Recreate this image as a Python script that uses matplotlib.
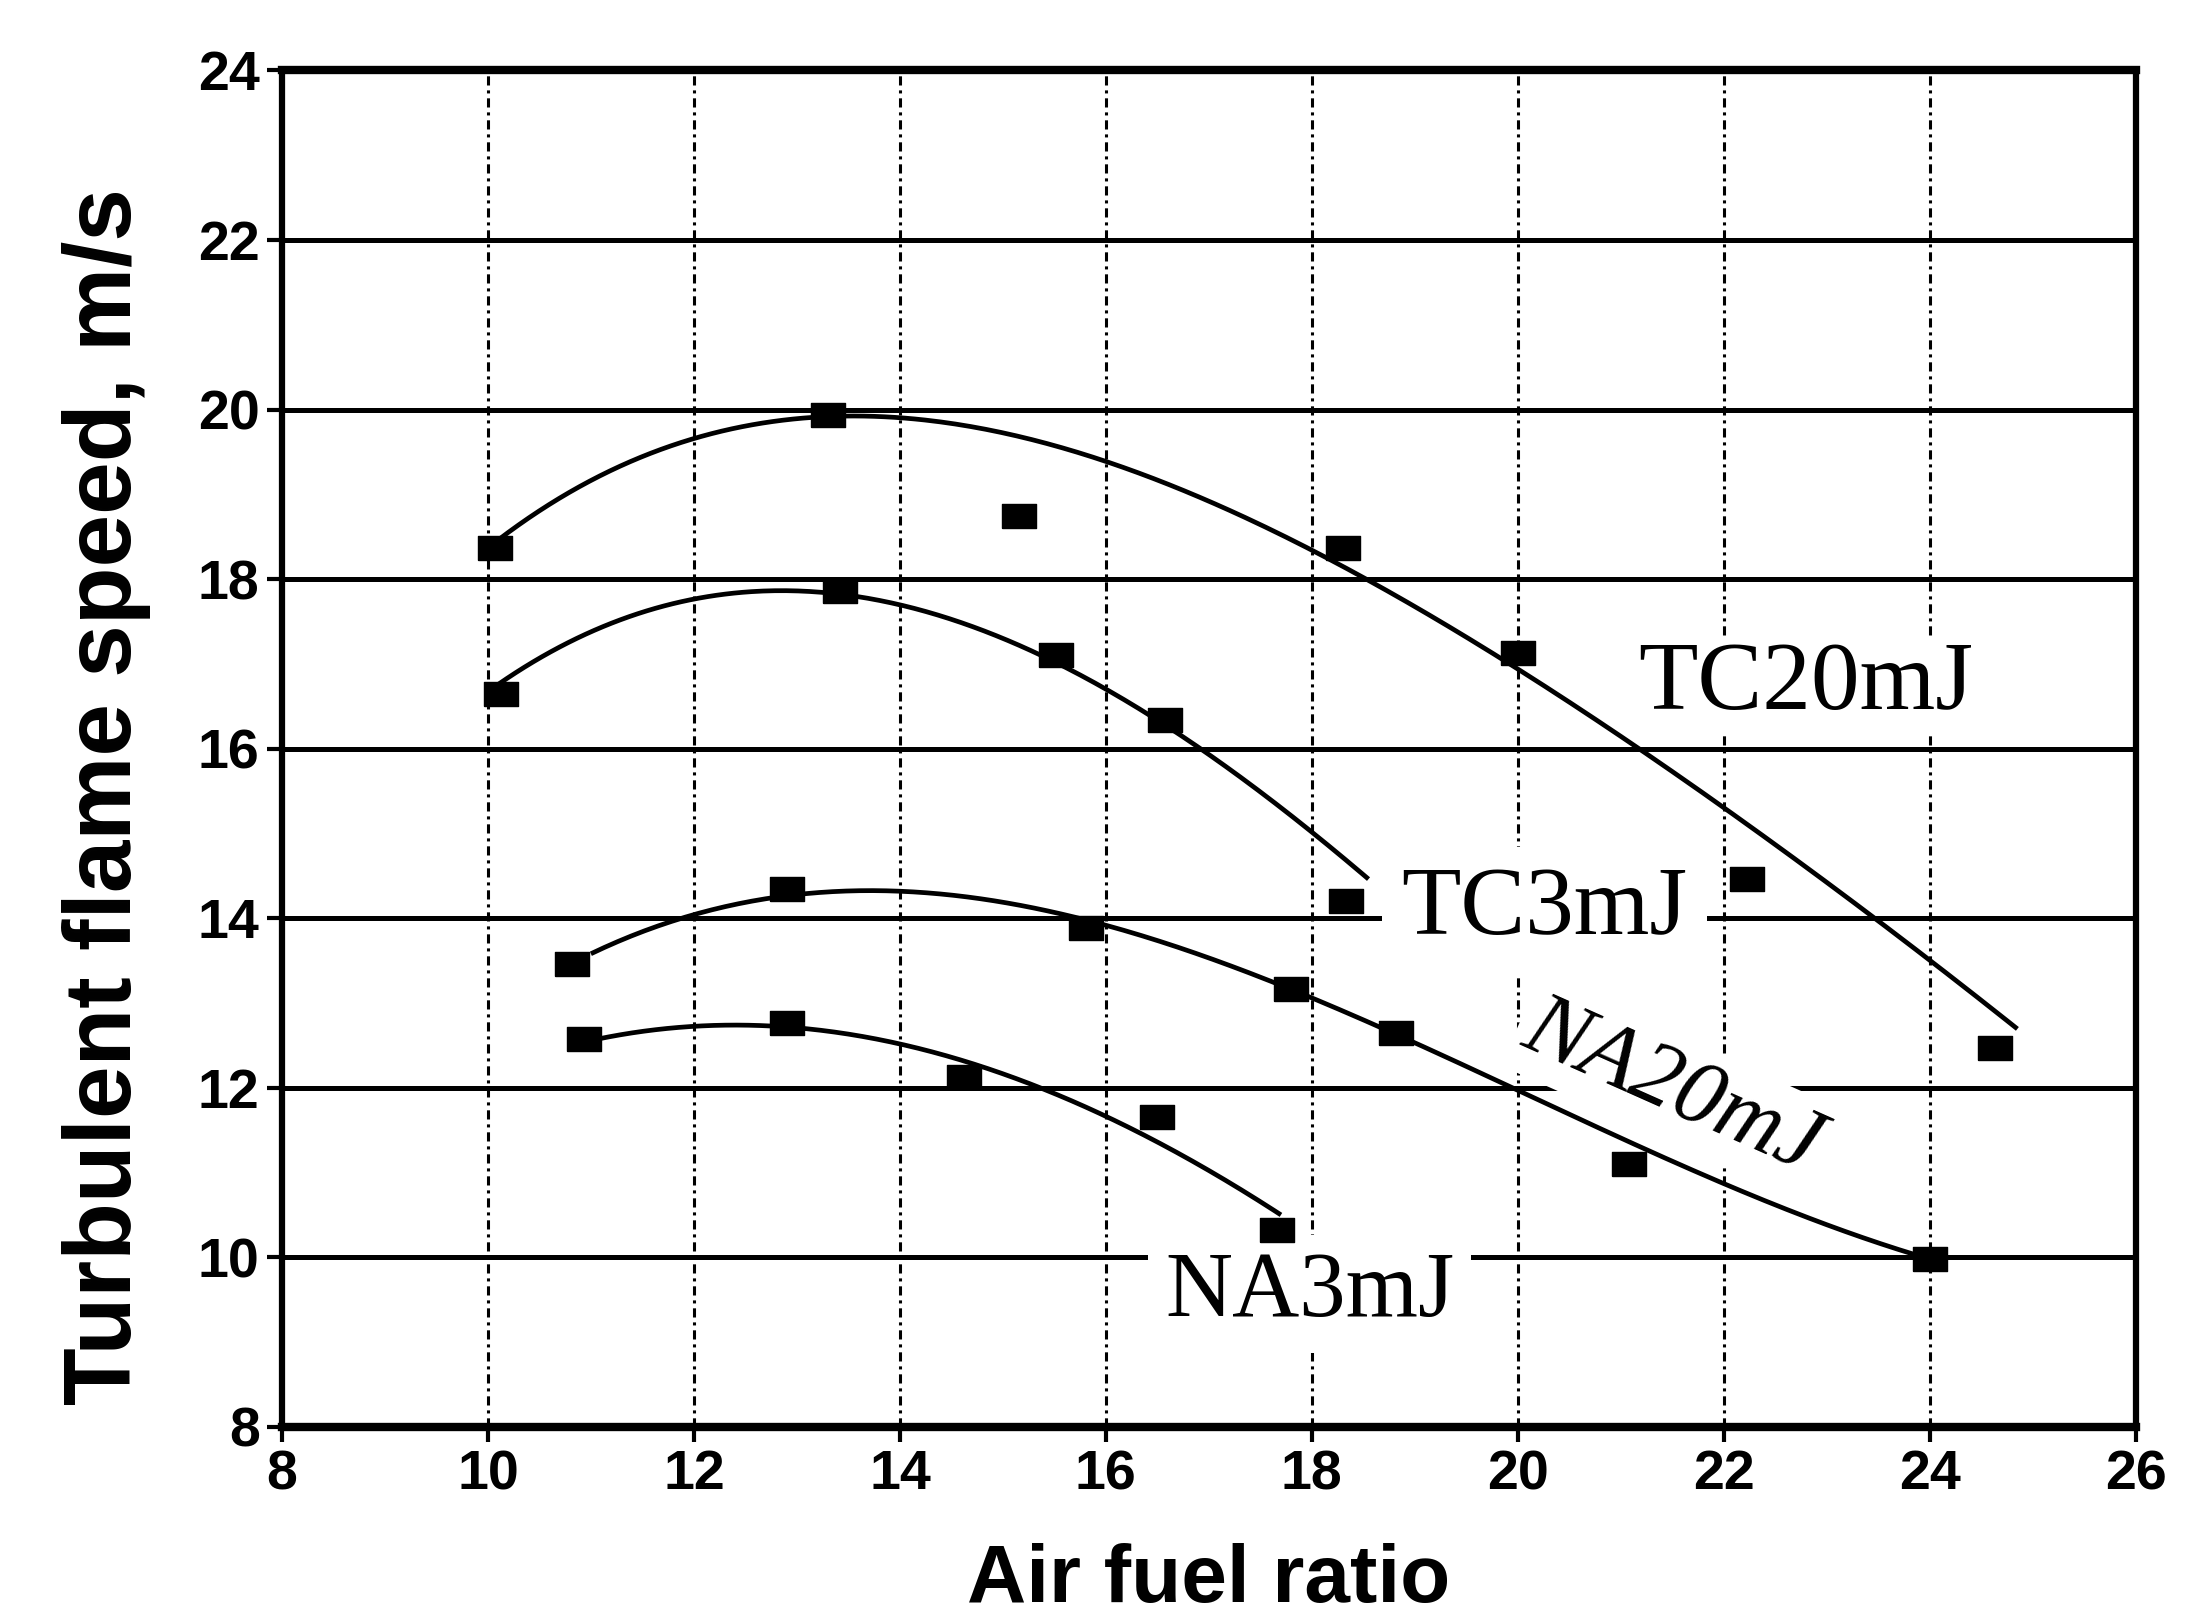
import numpy as np
import matplotlib.pyplot as plt

tc20_x = [10.07, 13.3, 15.16, 18.3, 20.0, 22.22, 24.63]
tc20_y = [18.37, 19.93, 18.75, 18.37, 17.13, 14.46, 12.47]

tc3_x = [10.13, 13.42, 15.52, 16.57, 18.33]
tc3_y = [16.64, 17.86, 17.1, 16.34, 14.2]

na20_x = [10.82, 12.9, 15.81, 17.8, 18.82, 21.08, 24.0]
na20_y = [13.46, 14.35, 13.88, 13.16, 12.65, 11.1, 9.98]

na3_x = [10.93, 12.9, 14.62, 16.5, 17.66]
na3_y = [12.58, 12.77, 12.13, 11.66, 10.32]

# --- drawn trend curves, read at a few x positions ---
tc20_curve_x = [10.1, 12, 13.5, 14, 16, 18, 20, 22, 24, 24.85]
tc20_curve_y = [18.45, 19.7, 19.9, 19.9, 19.35, 18.4, 16.92, 15.3, 13.5, 12.7]

tc3_curve_x = [10.1, 12, 13.5, 14, 16, 18, 18.55]
tc3_curve_y = [16.75, 17.8, 17.8, 17.65, 16.75, 14.98, 14.48]

na20_curve_x = [11.0, 12, 13, 14, 16, 18, 20, 22, 24]
na20_curve_y = [13.6, 14.04, 14.25, 14.3, 13.94, 13.13, 11.88, 10.9, 9.98]

na3_curve_x = [10.95, 12, 13, 14, 16, 17.7]
na3_curve_y = [12.55, 12.7, 12.75, 12.49, 11.67, 10.5]

x_ticks = [8, 10, 12, 14, 16, 18, 20, 22, 24, 26]
y_ticks = [8, 10, 12, 14, 16, 18, 20, 22, 24]

series = [
    (tc20_x, tc20_y, tc20_curve_x, tc20_curve_y, 4),
    (tc3_x, tc3_y, tc3_curve_x, tc3_curve_y, 3),
    (na20_x, na20_y, na20_curve_x, na20_curve_y, 3),
    (na3_x, na3_y, na3_curve_x, na3_curve_y, 3),
]

# wide filled rectangle, like the scanned markers
rect_marker = [(-1, -0.7), (1, -0.7), (1, 0.7), (-1, 0.7), (-1, -0.7)]

fig = plt.figure(figsize=(22.11, 16.23), dpi=100)
ax = fig.add_axes([0.1275, 0.1208, 0.8385, 0.8358])

# grid: heavy solid horizontals, dash-dot verticals
for yv in y_ticks[1:-1]:
    ax.axhline(yv, color="black", lw=3.6, zorder=1)
for xv in x_ticks[1:-1]:
    ax.axvline(xv, color="black", lw=2.2, ls=(0, (3, 1.6, 1, 1.6)), zorder=1)

for xs, ys, cx, cy, deg in series:
    coef = np.polyfit(cx, cy, deg)
    xx = np.linspace(cx[0], cx[-1], 300)
    ax.plot(xx, np.polyval(coef, xx), color="black", lw=3.4, zorder=3,
            solid_capstyle="butt")
    ax.plot(xs, ys, marker=rect_marker, ls="none", color="black",
            markersize=24, zorder=4)

# curve labels, each on a white patch that hides the grid behind it
serif = "Liberation Serif"
ax.text(22.79, 16.74, "TC20mJ", fontsize=70, family=serif, ha="center",
        va="center", zorder=2,
        bbox=dict(facecolor="white", edgecolor="none", pad=4))
ax.text(20.26, 14.09, "TC3mJ", fontsize=70, family=serif, ha="center",
        va="center", zorder=2,
        bbox=dict(facecolor="white", edgecolor="none", pad=14))
ax.text(21.5, 12.0, "NA20mJ", fontsize=66, family=serif, style="italic",
        rotation=-24, ha="center", va="center", rotation_mode="anchor",
        zorder=2, bbox=dict(facecolor="white", edgecolor="none", pad=6))
ax.text(17.98, 9.57, "NA3mJ", fontsize=67, family=serif, ha="center",
        va="center", zorder=2,
        bbox=dict(facecolor="white", edgecolor="none", pad=12))

ax.set_xlim(8, 26)
ax.set_ylim(8, 24)
ax.set_xticks(x_ticks)
ax.set_yticks(y_ticks)
ax.tick_params(direction="out", length=11, width=3, labelsize=40, pad=5)
for lab in ax.get_xticklabels() + ax.get_yticklabels():
    lab.set_fontweight("bold")
    lab.set_family("Liberation Sans")
for side in ["left", "right"]:
    ax.spines[side].set_linewidth(4.5)
for side in ["top", "bottom"]:
    ax.spines[side].set_linewidth(6)

ax.set_xlabel("Air fuel ratio", fontsize=59, fontweight="bold",
              family="Liberation Sans", labelpad=30)
ax.set_ylabel("Turbulent flame speed, m/s", fontsize=68, fontweight="bold",
              family="Liberation Sans", labelpad=34)
# the scanned label sits a little below the axes middle
ax.yaxis.label.set_y(0.465)

fig.savefig("out.png", dpi=100)
